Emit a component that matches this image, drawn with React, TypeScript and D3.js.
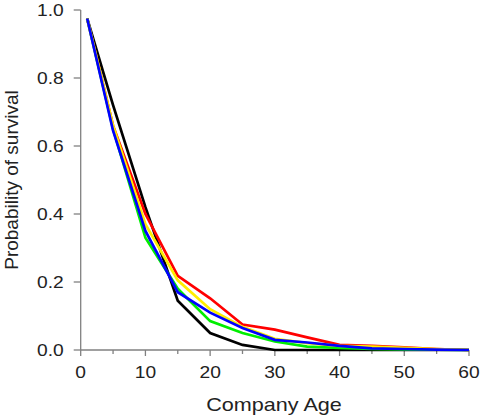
import React from "react";
import * as d3 from "d3";

const ages = [1, 5, 10, 15, 20, 25, 30, 35, 40, 45, 50, 55, 60];
const blackSeries = [0.975, 0.72, 0.42, 0.145, 0.05, 0.015, 0, 0, 0, 0, 0, 0, 0];
const redSeries = [0.975, 0.66, 0.4, 0.218, 0.152, 0.075, 0.06, 0.037, 0.015, 0.012, 0.008, 0.003, 0];
const greenSeries = [0.975, 0.65, 0.33, 0.18, 0.085, 0.05, 0.025, 0.01, 0.006, 0.003, 0.002, 0.001, 0];
const yellowSeries = [0.975, 0.66, 0.37, 0.205, 0.12, 0.068, 0.033, 0.02, 0.012, 0.01, 0.006, 0.003, 0];
const blueSeries = [0.975, 0.645, 0.35, 0.17, 0.11, 0.065, 0.03, 0.022, 0.012, 0.005, 0.003, 0.001, 0];

const seriesList = [
  { name: "black", values: blackSeries, color: "#000000" },
  { name: "red", values: redSeries, color: "#ff0000" },
  { name: "green", values: greenSeries, color: "#00ee00" },
  { name: "yellow", values: yellowSeries, color: "#ffee00" },
  { name: "blue", values: blueSeries, color: "#0000ff" },
];

const xTicks = [0, 10, 20, 30, 40, 50, 60];
const xMinorTicks = [5, 15, 25, 35, 45, 55];
const yTicks = [0, 0.2, 0.4, 0.6, 0.8, 1.0];

const W = 480;
const H = 416;
const margin = { left: 80.7, right: 11, top: 10, bottom: 66 };
const stretch = 1.2;

export default function App() {
  const x = d3.scaleLinear().domain([0, 60]).range([margin.left, W - margin.right]);
  const y = d3.scaleLinear().domain([0, 1]).range([H - margin.bottom, margin.top]);
  const line = d3
    .line<number>()
    .x((_, i) => x(ages[i]))
    .y((d) => y(d));
  const font = "'Liberation Sans', Arial, sans-serif";
  const axisColor = "#808080";
  const textColor = "#222";
  return (
    <svg
      width={W}
      height={H}
      style={{ position: "absolute", left: 0, top: 0, background: "#fff" }}
      fontFamily={font}
    >
      {/* axes */}
      <line x1={x(0)} x2={x(0)} y1={y(1)} y2={y(0)} stroke={axisColor} strokeWidth={1.3} />
      <line x1={x(0)} x2={x(60)} y1={y(0)} y2={y(0)} stroke={axisColor} strokeWidth={1.3} />
      {yTicks.map((t) => (
        <g key={"y" + t}>
          <line x1={x(0) - 7} x2={x(0)} y1={y(t)} y2={y(t)} stroke={axisColor} strokeWidth={1.3} />
          <text
            transform={`translate(${x(0) - 17},${y(t)}) scale(${stretch},1)`}
            dy="0.35em"
            textAnchor="end"
            fontSize={16}
            fill={textColor}
          >
            {t.toFixed(1)}
          </text>
        </g>
      ))}
      {xTicks.map((t) => (
        <g key={"x" + t}>
          <line x1={x(t)} x2={x(t)} y1={y(0)} y2={y(0) + 6} stroke={axisColor} strokeWidth={1.3} />
          <text
            transform={`translate(${x(t)},378) scale(${stretch},1)`}
            textAnchor="middle"
            fontSize={16}
            fill={textColor}
          >
            {t}
          </text>
        </g>
      ))}
      {xMinorTicks.map((t) => (
        <line key={"m" + t} x1={x(t)} x2={x(t)} y1={y(0)} y2={y(0) + 4} stroke={axisColor} strokeWidth={1.3} />
      ))}
      {/* series */}
      {seriesList.map((s) => (
        <path
          key={s.name}
          d={line(s.values) || ""}
          fill="none"
          stroke={s.color}
          strokeWidth={2.7}
          strokeLinejoin="miter"
        />
      ))}
      {/* titles */}
      <text
        transform={`translate(274,411) scale(${stretch},1)`}
        textAnchor="middle"
        fontSize={18}
        fill={textColor}
      >
        Company Age
      </text>
      <text
        transform={`translate(18,180) rotate(-90)`}
        textAnchor="middle"
        fontSize={19}
        fill={textColor}
      >
        Probability of survival
      </text>
    </svg>
  );
}
